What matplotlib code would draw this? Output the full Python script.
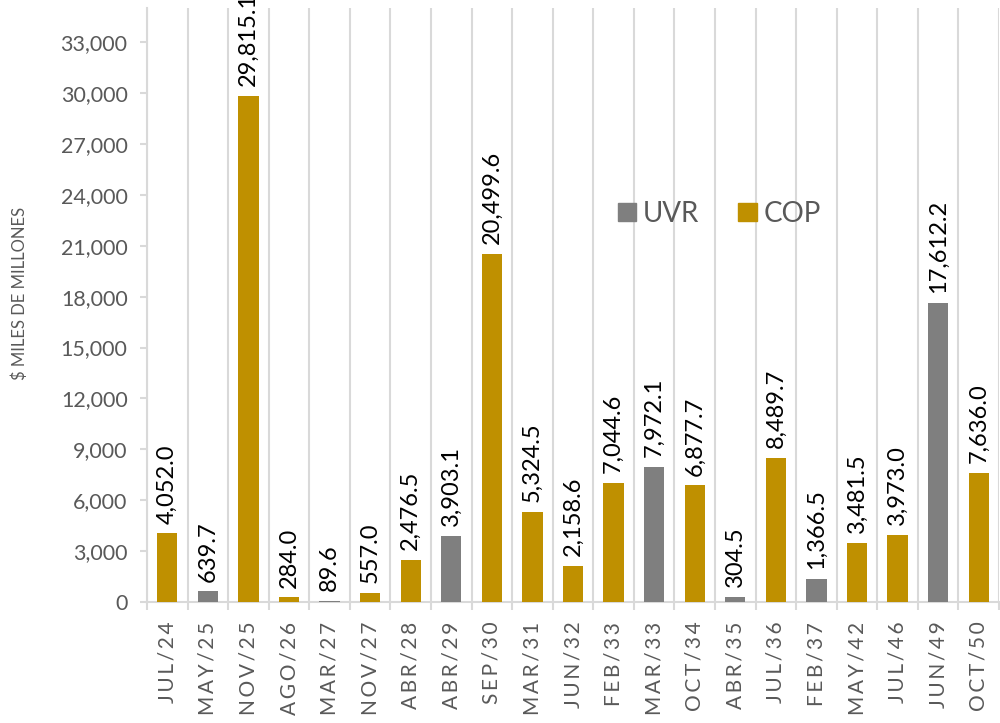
import matplotlib
matplotlib.use("Agg")
import matplotlib.pyplot as plt
import numpy as np
from matplotlib.patches import Patch

categories = ["JUL/24", "MAY/25", "NOV/25", "AGO/26", "MAR/27", "NOV/27", "ABR/28",
              "ABR/29", "SEP/30", "MAR/31", "JUN/32", "FEB/33", "MAR/33", "OCT/34",
              "ABR/35", "JUL/36", "FEB/37", "MAY/42", "JUL/46", "JUN/49", "OCT/50"]
values = [4052.0, 639.7, 29815.1, 284.0, 89.6, 557.0, 2476.5,
          3903.1, 20499.6, 5324.5, 2158.6, 7044.6, 7972.1, 6877.7,
          304.5, 8489.7, 1366.5, 3481.5, 3973.0, 17612.2, 7636.0]
series = ["COP", "UVR", "COP", "COP", "UVR", "COP", "COP",
          "UVR", "COP", "COP", "COP", "COP", "UVR", "COP",
          "UVR", "COP", "UVR", "COP", "COP", "UVR", "COP"]
yticks = [0, 3000, 6000, 9000, 12000, 15000, 18000, 21000, 24000, 27000, 30000, 33000]

colors = {"UVR": "#7F7F7F", "COP": "#BF9000"}
plt.rcParams['font.family'] = ['Lato', 'DejaVu Sans']

fig = plt.figure(figsize=(10, 7.23), dpi=100)
ax = fig.add_axes([0.147, 0.167, 0.852, 0.822])

x = np.arange(len(categories))
uvr = [v if s == "UVR" else 0 for v, s in zip(values, series)]
cop = [v if s == "COP" else 0 for v, s in zip(values, series)]
ax.bar(x, uvr, width=0.5, color=colors["UVR"], zorder=3)
ax.bar(x, cop, width=0.5, bottom=uvr, color=colors["COP"], zorder=3)

for xi, v in zip(x, values):
    ax.annotate(f"{v:,.1f}", (xi, v), xytext=(0, 7), textcoords="offset points",
                rotation=90, ha="center", va="bottom", fontsize=17, color="black",
                zorder=4, annotation_clip=False)

def spaced(s):
    return "\u2009".join(s)

ax.set_xlim(-0.5, len(categories) - 0.5)
ax.set_ylim(0, 35000)
ax.set_yticks(yticks)
ax.set_yticklabels([f"{t:,}" for t in yticks], fontsize=15.5, color="#595959")
ax.set_xticks(x)
ax.set_xticklabels([spaced(c) for c in categories], rotation=90, fontsize=15, color="#595959")
ax.tick_params(axis="x", length=0, pad=14)
ax.tick_params(axis="y", length=5, color="#D9D9D9", width=1.5, pad=9)

# vertical gridlines at category boundaries
for b in np.arange(-0.5, len(categories) + 0.5, 1):
    ax.axvline(b, color="#D9D9D9", lw=1.5, zorder=1)
ax.set_xticks(np.arange(-0.5, len(categories) + 0.5, 1), minor=True)
ax.tick_params(axis="x", which="minor", length=6, color="#D9D9D9", width=1.5)

for s in ["top", "right"]:
    ax.spines[s].set_visible(False)
ax.spines["left"].set_color("#D9D9D9")
ax.spines["left"].set_linewidth(1.5)
ax.spines["bottom"].set_color("#D9D9D9")
ax.spines["bottom"].set_linewidth(1.5)

ax.set_ylabel("$ MILES DE MILLONES", fontsize=12, color="#595959")
ax.yaxis.set_label_coords(-0.1397, 0.52)

handles = [Patch(color=colors["UVR"], label="UVR"), Patch(color=colors["COP"], label="COP")]
leg = ax.legend(handles=handles, loc="center", bbox_to_anchor=(0.672, 0.654), ncol=2,
                frameon=False, fontsize=20, handlelength=0.65, handleheight=0.65,
                handletextpad=0.25, columnspacing=1.4, labelcolor="#595959")

fig.savefig("out.png", dpi=100)
